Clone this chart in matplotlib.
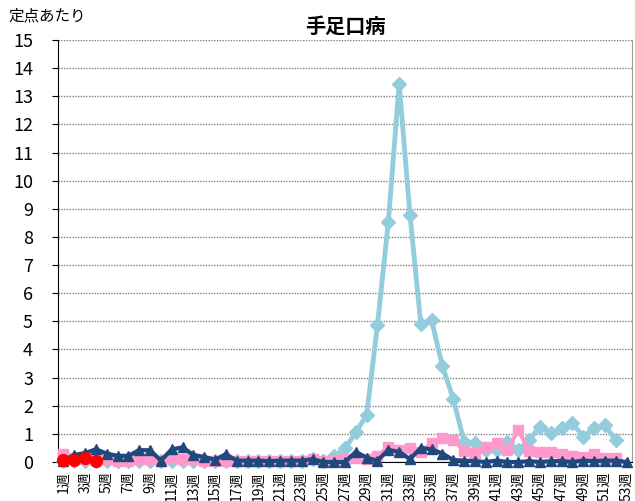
import matplotlib
matplotlib.use('Agg')
import matplotlib.pyplot as plt
import numpy as np

plt.rcParams['font.family'] = ['Noto Sans CJK JP', 'DejaVu Sans']

weeks = list(range(1, 54))
week_labels = [f'{w}週' if w % 2 == 1 else '' for w in weeks]

# 週ごとの定点あたり報告数
light_blue = [0.02, 0.05, 0.03, 0.02, 0.05, 0.03, 0.02, 0.05, 0.03, 0.02,
              0.05, 0.05, 0.03, 0.02, 0.05, 0.02, 0.02, 0.02, 0.02, 0.02,
              0.02, 0.02, 0.03, 0.1, 0.05, 0.2, 0.48, 1.05, 1.68, 4.87,
              8.53, 13.45, 8.78, 4.9, 5.03, 3.4, 2.24, 0.72, 0.67, 0.43,
              0.43, 0.72, 0.43, 0.78, 1.26, 1.03, 1.2, 1.38, 0.9, 1.2,
              1.31, 0.78]
pink = [0.3, 0.15, 0.1, 0.1, 0.1, 0.05, 0.05, 0.1, 0.1, 0.05,
        0.15, 0.12, 0.1, 0.05, 0.05, 0.05, 0.05, 0.05, 0.05, 0.05,
        0.05, 0.05, 0.05, 0.1, 0.05, 0.05, 0.1, 0.14, 0.1, 0.2,
        0.55, 0.43, 0.5, 0.36, 0.67, 0.85, 0.78, 0.4, 0.31, 0.54,
        0.67, 0.43, 1.14, 0.4, 0.36, 0.36, 0.3, 0.2, 0.17, 0.28,
        0.14, 0.14]
dark_blue = [0.05, 0.25, 0.32, 0.45, 0.3, 0.22, 0.22, 0.42, 0.42, 0.05,
             0.45, 0.52, 0.25, 0.18, 0.08, 0.28, 0.05, 0.05, 0.05, 0.03,
             0.05, 0.05, 0.05, 0.1, 0.0, 0.0, 0.0, 0.36, 0.15, 0.05,
             0.43, 0.36, 0.1, 0.5, 0.45, 0.3, 0.07, 0.05, 0.03, 0.0,
             0.05, 0.0, 0.0, 0.03, 0.0, 0.03, 0.03, 0.0, 0.05, 0.03,
             0.05, 0.05, 0.0]
red = [0.08, 0.06, 0.13, 0.04]

fig = plt.figure(figsize=(6.35, 5.01), dpi=100)
ax = fig.add_axes([58/635, 1-462/501, (632-58)/635, (462-40)/501])

ax.plot(weeks[:len(light_blue)], light_blue, color='#93CDDD', lw=3.5,
        marker='D', ms=7, zorder=3, clip_on=False)
ax.plot(weeks[:len(pink)], pink, color='#FF99CC', lw=3,
        marker='s', ms=7, zorder=4, clip_on=False)
ax.plot(weeks[:len(dark_blue)], dark_blue, color='#1F497D', lw=3,
        marker='^', ms=7.5, zorder=5, clip_on=False)
ax.plot(weeks[:len(red)], red, color='#FF0000', lw=3,
        marker='o', ms=8.5, zorder=6, clip_on=False)

ax.set_xlim(0.5, 53.5)
ax.set_ylim(0, 15)
ax.set_yticks(range(0, 16))
ax.tick_params(axis='y', labelsize=13, length=4, direction='out', pad=14)
ax.set_xticks(weeks)
ax.set_xticklabels(week_labels, rotation=90, fontsize=10)
ax.tick_params(axis='x', length=0, pad=7)
ax.grid(axis='y', color='#808080', ls=(0, (1, 1)), lw=1)
ax.set_axisbelow(True)

ax.spines['top'].set_visible(False)
ax.spines['right'].set_color('#A0A0A0')
ax.spines['left'].set_color('black')
ax.spines['bottom'].set_color('black')

ax.set_title('手足口病', fontsize=14.5, fontweight='bold', pad=5)
fig.text(8/635, 1-16/501, '定点あたり', fontsize=11.2, va='center', ha='left')

fig.savefig('out.png', dpi=100)
